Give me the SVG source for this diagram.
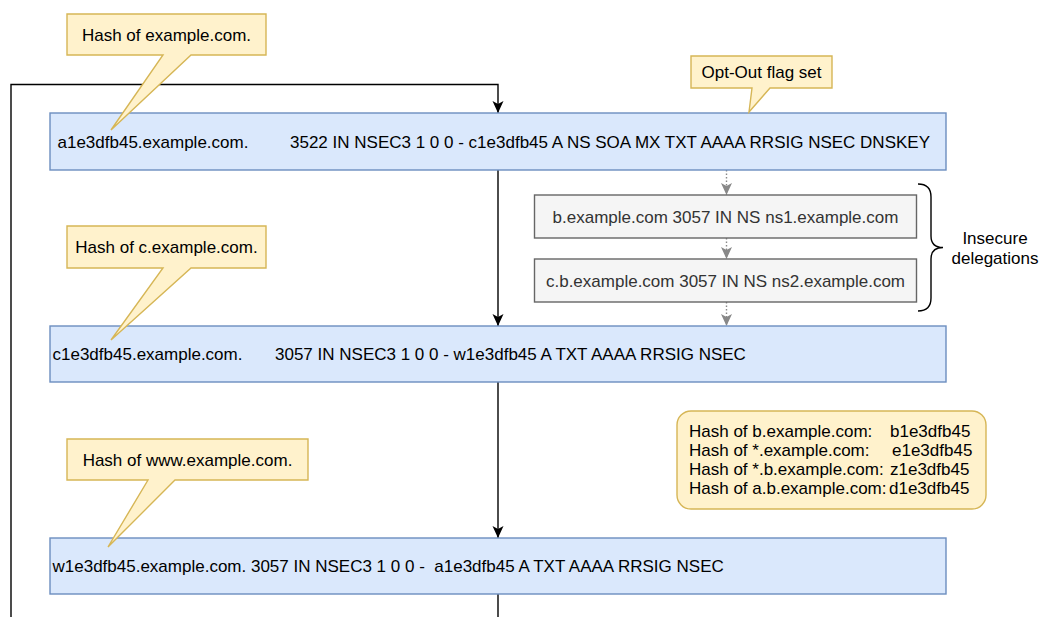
<svg xmlns="http://www.w3.org/2000/svg" width="1046" height="617" viewBox="0 0 1046 617">
<style>
text{font-family:"Liberation Sans",Arial,Helvetica,sans-serif;font-size:17px;fill:#000}
.blue{fill:#dae8fc;stroke:#6c8ebf;stroke-width:1.4}
.gray{fill:#f5f5f5;stroke:#666666;stroke-width:1.4}
.gtxt{fill:#333333}
.note{fill:#fff2cc;stroke:#d6b656;stroke-width:1.4}
.edge{fill:none;stroke:#000;stroke-width:1.4}
.dot{fill:none;stroke:#888;stroke-width:1.4;stroke-dasharray:1.5 2}
.mid{text-anchor:middle}
</style>
<defs>
<marker id="ab" markerUnits="userSpaceOnUse" markerWidth="14" markerHeight="14" viewBox="0 -7 14 14" refX="12" refY="0" orient="auto">
<path d="M0,-5.5 L12,0 L0,5.5 L3,0 Z" fill="#000"/>
</marker>
<marker id="ag" markerUnits="userSpaceOnUse" markerWidth="14" markerHeight="14" viewBox="0 -7 14 14" refX="12" refY="0" orient="auto">
<path d="M0,-5.5 L12,0 L0,5.5 L3,0 Z" fill="#888"/>
</marker>
</defs>

<g id="connectors">
<path class="edge" d="M498,594 L498,650 L11,650 L11,84.5 L498,84.5 L498,113" marker-end="url(#ab)"/>
<path class="edge" d="M498,170 L498,326" marker-end="url(#ab)"/>
<path class="edge" d="M498,382 L498,538" marker-end="url(#ab)"/>
<path class="dot" d="M726.5,170 L726.5,195" marker-end="url(#ag)"/>
<path class="dot" d="M726.5,238 L726.5,259" marker-end="url(#ag)"/>
<path class="dot" d="M726.5,302 L726.5,326" marker-end="url(#ag)"/>
<path d="M918,184 Q931,184 931,197 L931,236 Q931,247.5 943,247.5 Q931,247.5 931,259 L931,298 Q931,311 918,311" fill="none" stroke="#000" stroke-width="1.4"/>
</g>

<g id="nsec3-a">
<rect class="blue" x="50" y="113" width="896" height="57"/>
<text y="147.5"><tspan x="57.5">a1e3dfb45.example.com.</tspan><tspan x="290">3522 IN NSEC3 1 0 0 - c1e3dfb45 A NS SOA MX TXT AAAA RRSIG NSEC DNSKEY</tspan></text>
</g>

<g id="ns-b">
<rect class="gray" x="534.5" y="195" width="382" height="43"/>
<text class="gtxt mid" x="725.5" y="222.5">b.example.com 3057 IN NS ns1.example.com</text>
</g>

<g id="ns-cb">
<rect class="gray" x="534.5" y="259" width="382" height="43"/>
<text class="gtxt mid" x="725.5" y="286.5">c.b.example.com 3057 IN NS ns2.example.com</text>
</g>

<g id="insecure-label">
<text class="mid" x="995" y="244">Insecure</text>
<text class="mid" x="995" y="264">delegations</text>
</g>

<g id="nsec3-c">
<rect class="blue" x="50" y="326" width="896" height="56"/>
<text y="360"><tspan x="52.5">c1e3dfb45.example.com.</tspan><tspan x="275">3057 IN NSEC3 1 0 0 - w1e3dfb45 A TXT AAAA RRSIG NSEC</tspan></text>
</g>

<g id="nsec3-w">
<rect class="blue" x="50" y="538" width="896" height="56"/>
<text x="52.5" y="572" xml:space="preserve">w1e3dfb45.example.com. 3057 IN NSEC3 1 0 0 -  a1e3dfb45 A TXT AAAA RRSIG NSEC</text>
</g>

<g id="hash-list">
<rect class="note" x="677" y="411" width="309" height="98" rx="14" ry="14"/>
<text y="437"><tspan x="689">Hash of b.example.com:</tspan><tspan x="890">b1e3dfb45</tspan></text>
<text y="456"><tspan x="689">Hash of *.example.com:</tspan><tspan x="892">e1e3dfb45</tspan></text>
<text y="475"><tspan x="689">Hash of *.b.example.com:</tspan><tspan x="890">z1e3dfb45</tspan></text>
<text y="494"><tspan x="689">Hash of a.b.example.com:</tspan><tspan x="889">d1e3dfb45</tspan></text>
</g>

<g id="callout-example">
<path class="note" d="M67,14 H266 V55 H191 L111,130 L163,55 H67 Z"/>
<text class="mid" x="166.5" y="40.5">Hash of example.com.</text>
</g>

<g id="callout-optout">
<path class="note" d="M691,56 H832 V88 H770 L749,112 L752,88 H691 Z"/>
<text class="mid" x="761.5" y="78">Opt-Out flag set</text>
</g>

<g id="callout-c">
<path class="note" d="M67,226 H266 V268 H191 L111,340 L163,268 H67 Z"/>
<text class="mid" x="166.5" y="253">Hash of c.example.com.</text>
</g>

<g id="callout-www">
<path class="note" d="M67,439 H308 V480 H175 L108,547 L148,480 H67 Z"/>
<text class="mid" x="187.5" y="465.5">Hash of www.example.com.</text>
</g>
</svg>
